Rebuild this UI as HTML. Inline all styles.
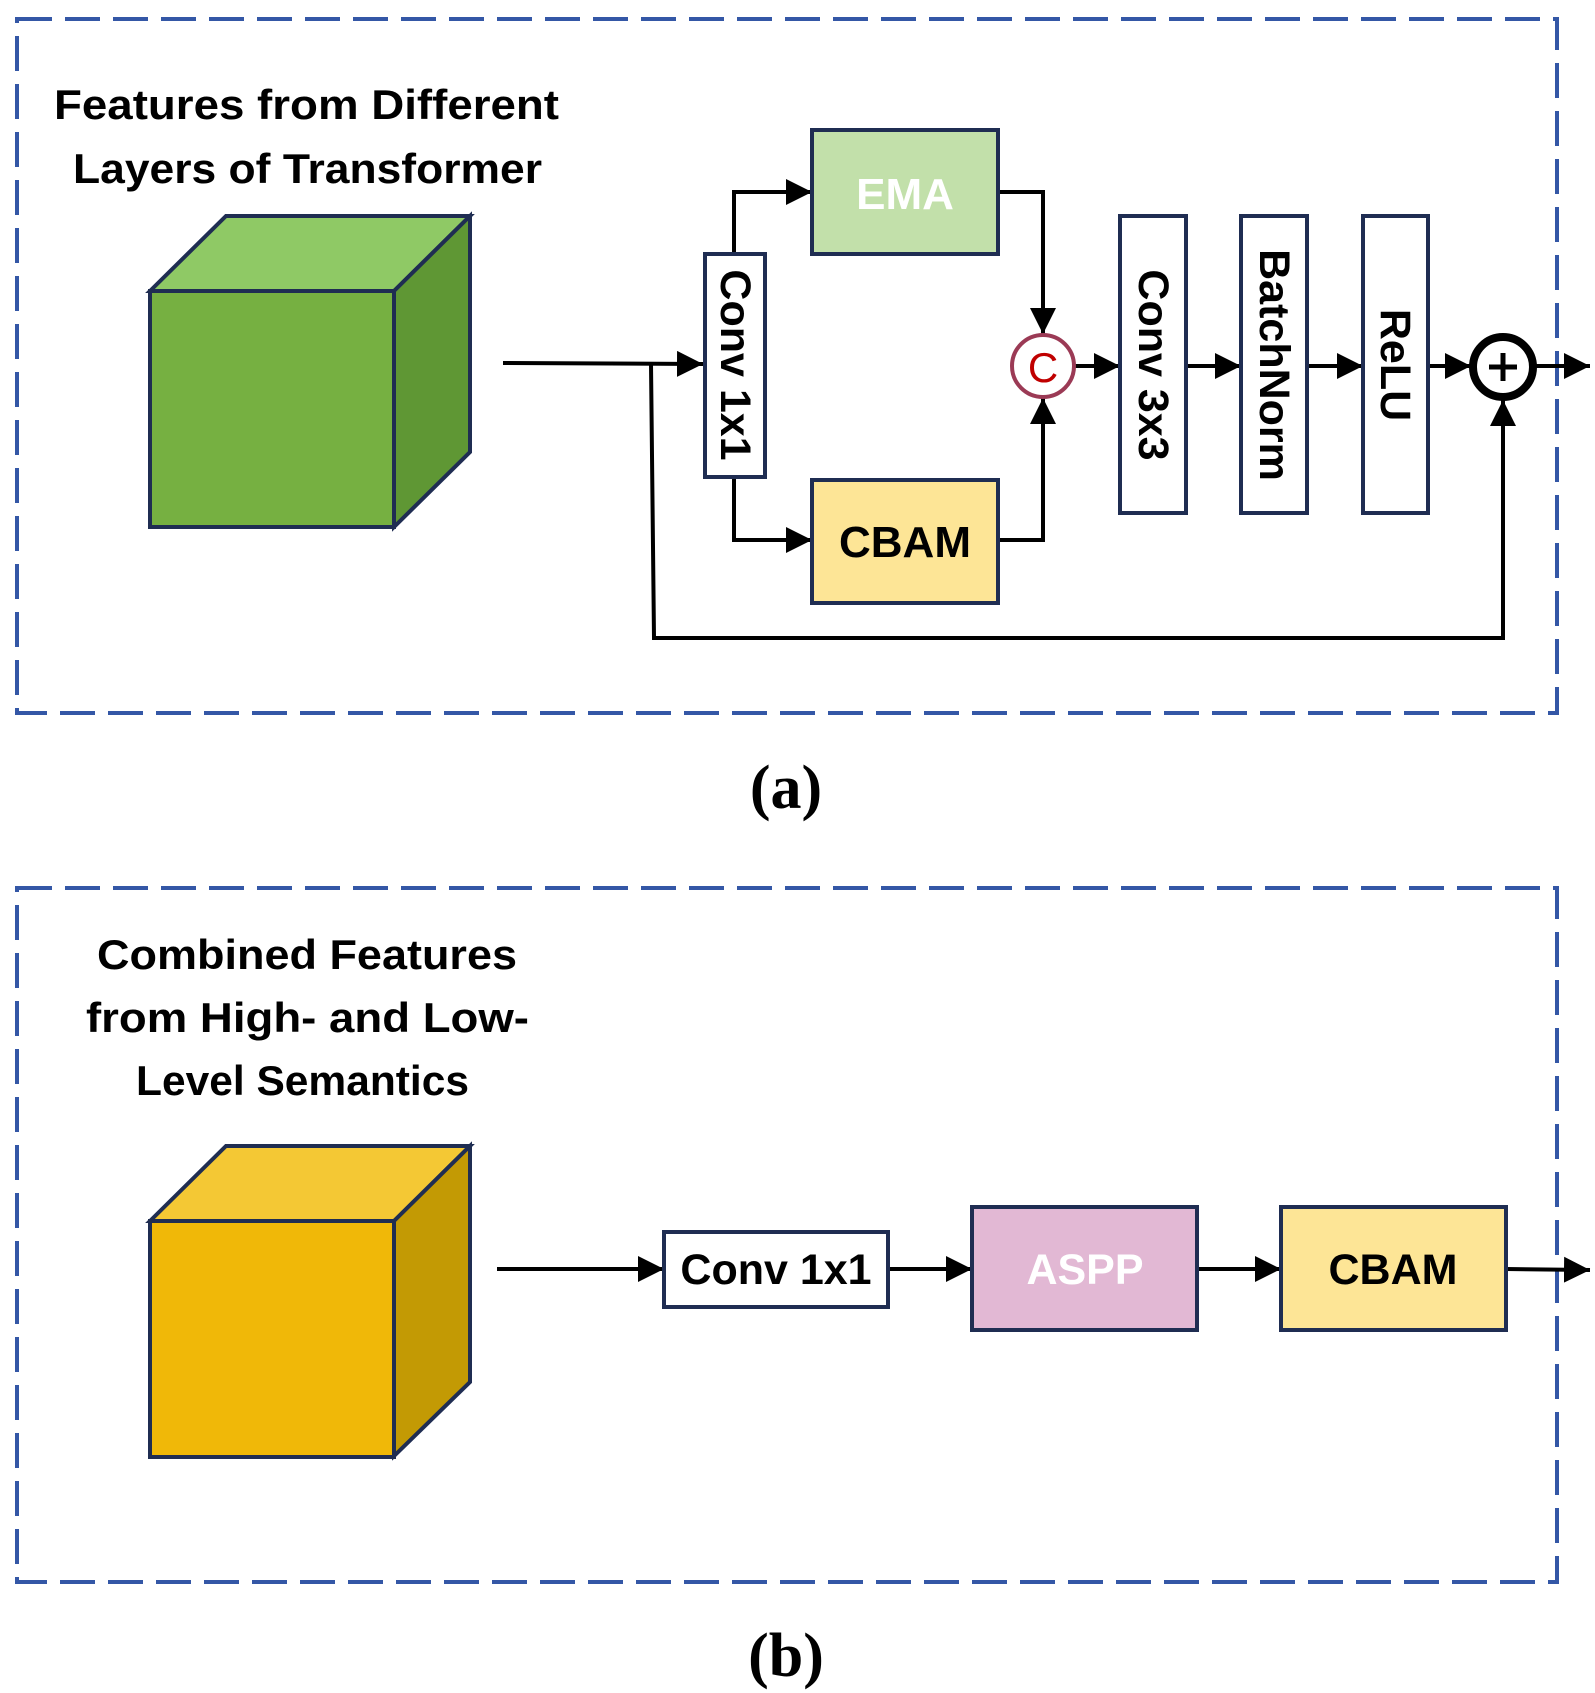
<!DOCTYPE html>
<html><head><meta charset="utf-8"><style>
html,body{margin:0;padding:0;background:#fff;}
svg{display:block;}
text{font-family:"Liberation Sans",sans-serif;font-weight:bold;}
</style></head><body>
<svg width="1595" height="1693" viewBox="0 0 1595 1693" xmlns="http://www.w3.org/2000/svg">
<defs>
<marker id="ar" viewBox="0 0 10 10" refX="10" refY="5" markerWidth="26" markerHeight="26" markerUnits="userSpaceOnUse" orient="auto">
<path d="M0,0 L10,5 L0,10 z" fill="#000"/>
</marker>
</defs>
<rect x="17" y="19" width="1540" height="694" fill="none" stroke="#3457a6" stroke-width="4" stroke-dasharray="35 13"/>
<rect x="17" y="888" width="1540" height="694" fill="none" stroke="#3457a6" stroke-width="4" stroke-dasharray="35 13"/>
<text x="786" y="808" font-size="62" text-anchor="middle" style="font-family:'Liberation Serif',serif">(a)</text>
<text x="786" y="1676" font-size="62" text-anchor="middle" style="font-family:'Liberation Serif',serif">(b)</text>

<text x="54" y="119" font-size="42" textLength="505" lengthAdjust="spacingAndGlyphs">Features from Different</text>
<text x="73" y="183" font-size="42" textLength="469" lengthAdjust="spacingAndGlyphs">Layers of Transformer</text>
<text x="97" y="969" font-size="42" textLength="420" lengthAdjust="spacingAndGlyphs">Combined Features</text>
<text x="86" y="1032" font-size="42" textLength="443" lengthAdjust="spacingAndGlyphs">from High- and Low-</text>
<text x="136" y="1095" font-size="42" textLength="333" lengthAdjust="spacingAndGlyphs">Level Semantics</text>

<g stroke="#1f2d52" stroke-width="4" stroke-linejoin="miter">
<polygon points="150,291 226,216 470,216 394,291" fill="#8fc965"/>
<polygon points="394,291 470,216 470,452 394,527" fill="#5f9734"/>
<rect x="150" y="291" width="244" height="236" fill="#76b041"/>
</g>
<g stroke="#1f2d52" stroke-width="4">
<polygon points="150,1221 226,1146 470,1146 394,1221" fill="#f4c834"/>
<polygon points="394,1221 470,1146 470,1382 394,1456" fill="#c39a04"/>
<rect x="150" y="1221" width="244" height="236" fill="#f0b808"/>
</g>

<g stroke="#000" stroke-width="4" fill="none">
<path d="M503,363 L703,364" marker-end="url(#ar)"/>
<path d="M651,364 L654,638 L1503,638 L1503,400" marker-end="url(#ar)"/>
<path d="M734,253 L734,192 L812,192" marker-end="url(#ar)"/>
<path d="M734,477 L734,540 L812,540" marker-end="url(#ar)"/>
<path d="M998,192 L1043,192 L1043,334" marker-end="url(#ar)"/>
<path d="M998,540 L1043,540 L1043,398" marker-end="url(#ar)"/>
<path d="M1075,366 L1120,366" marker-end="url(#ar)"/>
<path d="M1188,366 L1241,366" marker-end="url(#ar)"/>
<path d="M1307,366 L1363,366" marker-end="url(#ar)"/>
<path d="M1428,366 L1471,366" marker-end="url(#ar)"/>
<path d="M1535,366 L1590,366" marker-end="url(#ar)"/>
</g>

<g stroke="#1f2d52" stroke-width="4">
<rect x="705" y="254" width="60" height="223" fill="#fff"/>
<rect x="812" y="130" width="186" height="124" fill="#c2e0aa"/>
<rect x="812" y="480" width="186" height="123" fill="#fde596"/>
<rect x="1120" y="216" width="66" height="297" fill="#fff"/>
<rect x="1241" y="216" width="66" height="297" fill="#fff"/>
<rect x="1363" y="216" width="65" height="297" fill="#fff"/>
</g>
<text x="905" y="209" font-size="44" fill="#fff" text-anchor="middle">EMA</text>
<text x="905" y="557" font-size="44" fill="#000" text-anchor="middle">CBAM</text>
<text transform="translate(735,365) rotate(90)" font-size="43" text-anchor="middle" dominant-baseline="central">Conv 1x1</text>
<text transform="translate(1153,365) rotate(90)" font-size="43" text-anchor="middle" dominant-baseline="central">Conv 3x3</text>
<text transform="translate(1274,365) rotate(90)" font-size="43" text-anchor="middle" dominant-baseline="central">BatchNorm</text>
<text transform="translate(1395,365) rotate(90)" font-size="43" text-anchor="middle" dominant-baseline="central">ReLU</text>

<circle cx="1043" cy="366" r="31" fill="#fff" stroke="#9b3a55" stroke-width="4"/>
<text x="1043" y="382" font-size="42" fill="#c00000" text-anchor="middle" style="font-weight:normal">C</text>
<circle cx="1503" cy="367" r="30" fill="#fff" stroke="#000" stroke-width="8"/>
<path d="M1503,353 V381 M1489,367 H1517" stroke="#000" stroke-width="5"/>

<g stroke="#000" stroke-width="4" fill="none">
<path d="M497,1269 L664,1269" marker-end="url(#ar)"/>
<path d="M888,1269 L972,1269" marker-end="url(#ar)"/>
<path d="M1197,1269 L1281,1269" marker-end="url(#ar)"/>
<path d="M1506,1269 L1590,1270" marker-end="url(#ar)"/>
</g>
<g stroke="#1f2d52" stroke-width="4">
<rect x="664" y="1232" width="224" height="75" fill="#fff"/>
<rect x="972" y="1207" width="225" height="123" fill="#e2b8d4"/>
<rect x="1281" y="1207" width="225" height="123" fill="#fde596"/>
</g>
<text x="776" y="1284" font-size="43" text-anchor="middle">Conv 1x1</text>
<text x="1085" y="1284" font-size="43" fill="#fff" text-anchor="middle">ASPP</text>
<text x="1393" y="1284" font-size="43" text-anchor="middle">CBAM</text>
</svg>
</body></html>
